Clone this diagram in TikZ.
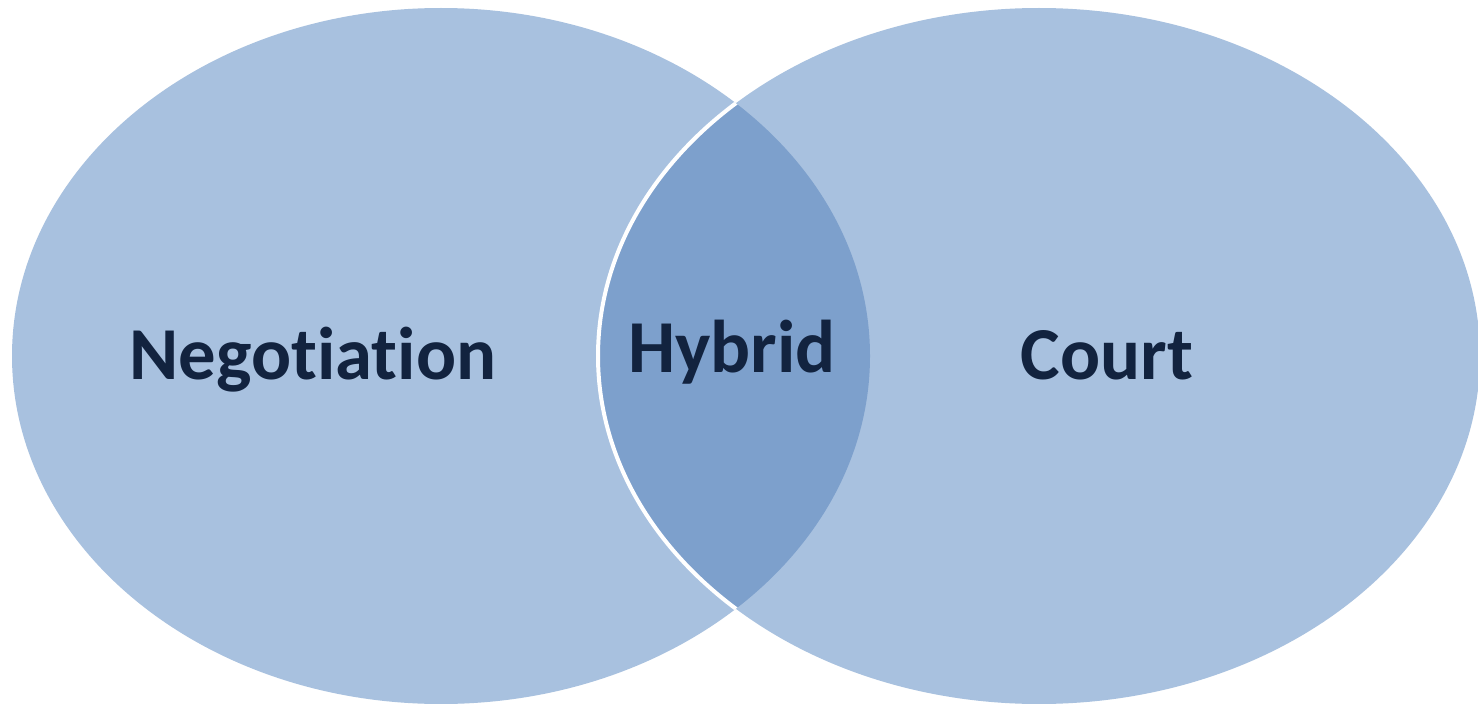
\documentclass[tikz,border=0pt]{standalone}
\usepackage{fontspec}
\setmainfont[Ligatures={NoCommon,NoRequired,NoContextual}]{Carlito}
\definecolor{lightfill}{HTML}{A8C1DF}
\definecolor{darkfill}{HTML}{7DA0CC}
\definecolor{textcol}{HTML}{12233F}
\begin{document}
\begin{tikzpicture}[x=1bp,y=-1bp,
  lbl/.style={font=\fontsize{75}{80}\selectfont\bfseries, text=textcol, inner sep=0pt, anchor=base}]
\useasboundingbox (0,0) rectangle (1478,704);
\fill[white] (0,0) rectangle (1478,704);
% left ellipse
\fill[lightfill] (441,356) ellipse [x radius=429, y radius=348];
% right ellipse
\fill[lightfill] (1039,356) ellipse [x radius=441, y radius=348];
% intersection
\begin{scope}
  \clip (441,356) ellipse [x radius=429, y radius=348];
  \fill[darkfill] (1039,356) ellipse [x radius=441, y radius=348];
  \draw[white, line width=4bp] (1039,356) ellipse [x radius=441, y radius=348];
\end{scope}
\node[lbl] (neg) at (313,379) {Negotiation};
\node[lbl] (hyb) at (732,372) {Hybrid};
\node[lbl] (court) at (1107,379) {Court};
\end{tikzpicture}
\end{document}
